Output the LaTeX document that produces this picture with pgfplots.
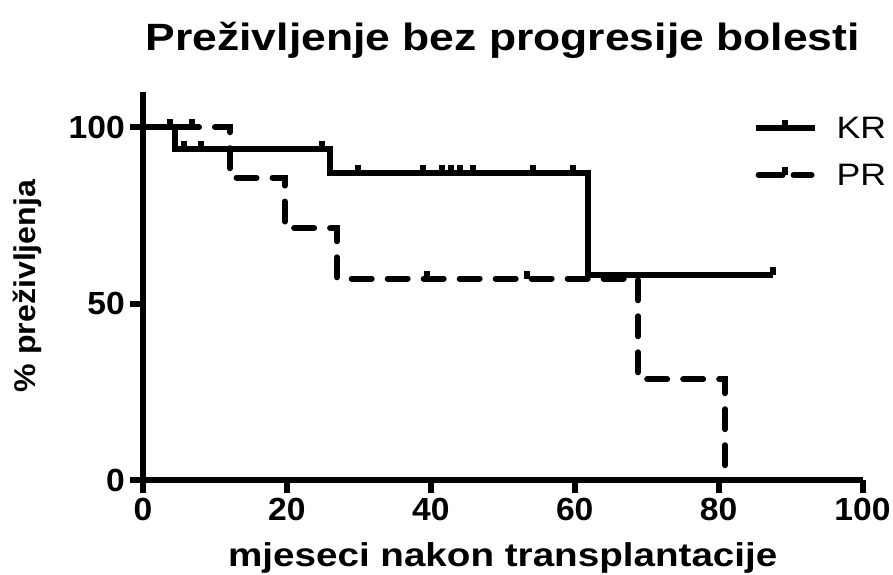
\documentclass[border=0pt]{standalone}
\usepackage{fontspec}
\setmainfont{Liberation Sans}
\newfontfamily\titlefont[FakeStretch=1.17]{Liberation Sans}
\newfontfamily\xlabfont[FakeStretch=1.17]{Liberation Sans}
\newfontfamily\tickfont[FakeStretch=1.05]{Liberation Sans}
\newfontfamily\ylabfont[FakeStretch=1.07]{Liberation Sans}
\newfontfamily\legfont[FakeStretch=1.15]{Liberation Sans}
\usepackage{pgfplots}
\pgfplotsset{compat=1.18}
\pgfdeclareplotmark{cens}{\pgfpathmoveto{\pgfpointorigin}\pgfpathlineto{\pgfqpoint{0pt}{\pgfplotmarksize}}\pgfusepathqstroke}
\begin{document}
\begin{tikzpicture}
\useasboundingbox (-143pt,-94pt) rectangle (750pt,480pt);
\begin{axis}[
  at={(0pt,0pt)}, anchor=south west,
  scale only axis, width=719.5pt, height=388pt,
  xmin=0, xmax=100, ymin=0, ymax=110,
  clip=false,
  axis x line*=bottom, axis y line*=left,
  axis line style={line width=6pt, black},
  tick align=outside, major tick length=13pt,
  tick style={line width=6pt, black},
  xtick={0,20,40,60,80,100}, ytick={0,50,100},
  minor tick num=0,
  /pgf/number format/assume math mode=true,
  xticklabel style={font=\tickfont\bfseries\fontsize{32}{32}\selectfont, inner sep=0pt, yshift=-5pt},
  yticklabel style={font=\tickfont\bfseries\fontsize{32}{32}\selectfont, inner sep=0pt, xshift=-5pt},
  title={Preživljenje bez progresije bolesti},
  title style={at={(axis description cs:0.5,1)}, anchor=base, yshift=36pt, font=\titlefont\bfseries\fontsize{38}{38}\selectfont},
  xlabel={mjeseci nakon transplantacije},
  xlabel style={at={(axis description cs:0.5,0)}, anchor=base, yshift=-86pt, font=\xlabfont\bfseries\fontsize{33}{33}\selectfont},
  ylabel={\% preživljenja},
  ylabel style={at={(axis description cs:-0.1612,0.5)}, anchor=center, font=\ylabfont\bfseries\fontsize{30}{30}\selectfont},
  legend style={at={(axis cs:84.72,103.2)}, anchor=north west, draw=none, fill=none,
    inner sep=0pt, outer sep=0pt, row sep=23pt, column sep=19pt,
    font=\legfont\fontsize{31}{31}\selectfont,
    nodes={inner sep=0pt, text height=22pt, text depth=0pt}},
  legend cell align=left,
]
\addplot[const plot, line width=6pt, black, forget plot] coordinates {(0,100)(4.45,93.75)(26,87)(61.8,58)(87.6,58)};
\addplot[const plot, line width=6pt, black, dash pattern=on 20pt off 16pt, line cap=round, forget plot] coordinates {(0,100)(12.1,85.7)(19.7,71.4)(26.96,57.1)(68.8,28.6)(80.9,0)};
\addplot[only marks, mark=cens, mark size=8pt, line width=6pt, black, forget plot] coordinates {(3.75,100)(6.8,100)(5.7,93.75)(8.06,93.75)(24.9,93.75)(29.9,87)(38.9,87)(41.6,87)(42.8,87)(44.0,87)(45.9,87)(54.2,87)(59.8,87)(87.6,58)};
\addplot[only marks, mark=cens, mark size=8pt, line width=6pt, black, forget plot] coordinates {(39.5,57.1)(53.4,57.1)};
\addlegendimage{legend image code/.code={\draw[line width=6pt] (0pt,0pt)--(59pt,0pt); \draw[line width=6pt] (29.5pt,0pt)--(29.5pt,8pt); \path[draw=none,fill=none] (0pt,-12pt) rectangle (0.1pt,12pt);}}
\addlegendentry{KR}
\addlegendimage{legend image code/.code={\draw[line width=6pt, line cap=round] (3pt,0pt)--(27pt,0pt); \draw[line width=6pt, line cap=round] (38pt,0pt)--(56pt,0pt); \draw[line width=6pt] (29.5pt,0pt)--(29.5pt,8pt); \path[draw=none,fill=none] (0pt,-12pt) rectangle (0.1pt,12pt);}}
\addlegendentry{PR}
\end{axis}
\end{tikzpicture}
\end{document}
